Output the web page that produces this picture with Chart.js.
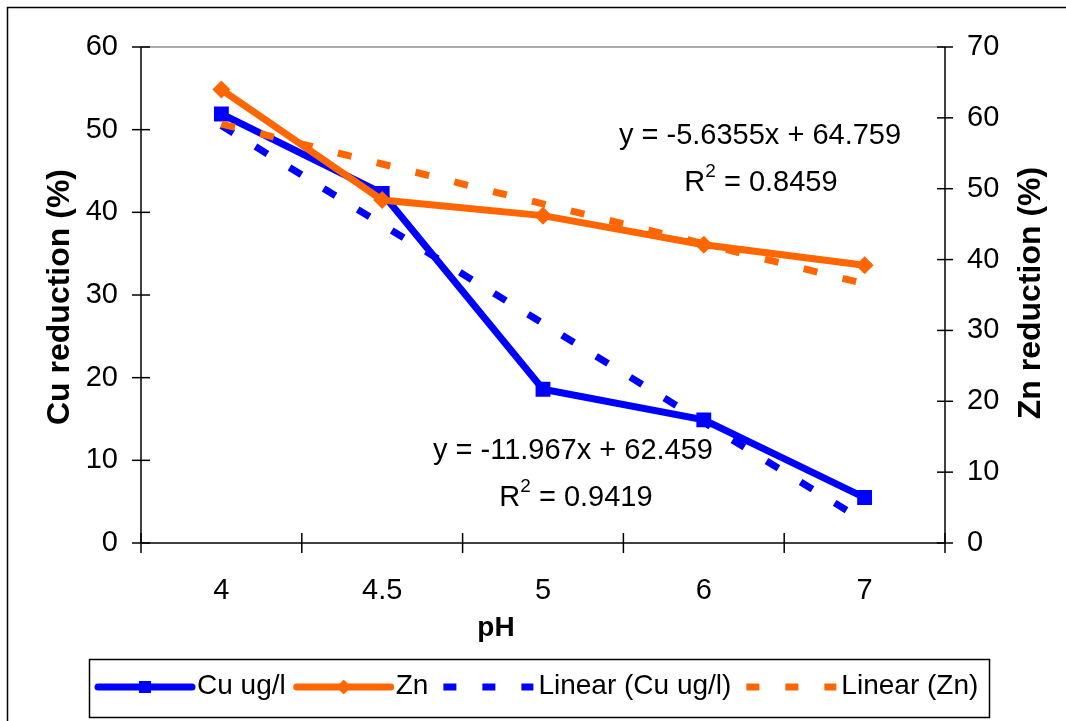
<!DOCTYPE html>
<html>
<head>
<meta charset="utf-8">
<title>Cu and Zn reduction vs pH</title>
<script src="https://cdn.jsdelivr.net/npm/chart.js@4.4.1/dist/chart.umd.min.js"></script>
<style>
  html, body { margin: 0; padding: 0; background: #fff; }
  #wrap { width: 1066px; height: 721px; }
</style>
</head>
<body>
<div id="wrap"><canvas id="phChart" width="1066" height="721"></canvas></div>
<script>
// pH categories on the x axis
const phLabels = ['4', '4.5', '5', '6', '7'];

// Reduction (%) at each pH
const cuReduction = [51.9, 42.3, 18.6, 14.9, 5.5];
const znReduction = [64.0, 48.4, 46.2, 42.1, 39.2];

// Linear trendlines: [slope, intercept, R squared], x runs 1..n over the categories
const cuFit = [-11.967, 62.459, 0.9419];
const znFit = [-5.6355, 64.759, 0.8459];

// Axis ranges: [min, max, step]
const cuAxisRange = [0, 60, 10];
const znAxisRange = [0, 70, 10];

const FONT = '"Liberation Sans", Arial, sans-serif';
const BLUE = '#0000ff';
const ORANGE = '#ff6600';

function trendValues(fit) {
    return phLabels.map((_, i) => fit[0] * (i + 1) + fit[1]);
}

function strokeLine(ctx, x1, y1, x2, y2) {
    ctx.beginPath();
    ctx.moveTo(x1, y1);
    ctx.lineTo(x2, y2);
    ctx.stroke();
}

// Outer border, plot frame and ticks that cross the axis lines
const framePlugin = {
    id: 'frame',
    beforeDraw(chart) {
        const ctx = chart.ctx;
        ctx.save();
        ctx.fillStyle = '#fff';
        ctx.fillRect(0, 0, chart.width, chart.height);
        ctx.strokeStyle = '#000';
        ctx.lineWidth = 1.5;
        ctx.strokeRect(7.5, 7.5, chart.width + 20, chart.height + 20);
        ctx.restore();
    },
    beforeDatasetsDraw(chart) {
        const { ctx, chartArea: a, scales } = chart;
        ctx.save();
        ctx.lineWidth = 1.5;
        ctx.strokeStyle = '#8c8c8c';
        strokeLine(ctx, a.left, a.top, a.right, a.top);
        ctx.strokeStyle = '#000';
        strokeLine(ctx, a.left, a.top, a.left, a.bottom);
        strokeLine(ctx, a.right, a.top, a.right, a.bottom);
        strokeLine(ctx, a.left, a.bottom, a.right, a.bottom);

        scales.y.ticks.forEach(t => {
            const y = scales.y.getPixelForValue(t.value);
            strokeLine(ctx, a.left - 9, y, a.left + 9, y);
        });
        scales.y1.ticks.forEach(t => {
            const y = scales.y1.getPixelForValue(t.value);
            strokeLine(ctx, a.right - 8, y, a.right + 8, y);
        });
        for (let i = 0; i <= phLabels.length; i++) {
            const x = scales.x.getPixelForValue(i - 0.5);
            strokeLine(ctx, x, a.bottom - 10, x, a.bottom + 10);
        }
        ctx.restore();
    }
};

// Axis titles, trendline equations and the boxed legend
function drawFitLabel(ctx, fit, cx, cy, cx2, cy2) {
    ctx.fillStyle = '#000';
    ctx.textBaseline = 'middle';
    ctx.textAlign = 'center';
    ctx.font = '29px ' + FONT;
    ctx.fillText('y = ' + fit[0] + 'x + ' + fit[1], cx, cy);

    const rest = ' = ' + fit[2];
    const wR = ctx.measureText('R').width;
    const wRest = ctx.measureText(rest).width;
    ctx.font = '19px ' + FONT;
    const w2 = ctx.measureText('2').width;
    const x0 = cx2 - (wR + w2 + wRest) / 2;
    ctx.textAlign = 'left';
    ctx.fillText('2', x0 + wR, cy2 - 11);
    ctx.font = '29px ' + FONT;
    ctx.fillText('R', x0, cy2);
    ctx.fillText(rest, x0 + wR + w2, cy2);
}

const annotatePlugin = {
    id: 'annotate',
    afterDraw(chart) {
        const ctx = chart.ctx;
        ctx.save();
        ctx.fillStyle = '#000';
        ctx.textAlign = 'center';
        ctx.textBaseline = 'middle';

        ctx.font = 'bold 32px ' + FONT;
        ctx.save();
        ctx.translate(60, 297);
        ctx.rotate(-Math.PI / 2);
        ctx.fillText('Cu reduction (%)', 0, 0);
        ctx.restore();
        ctx.save();
        ctx.translate(1031, 293);
        ctx.rotate(-Math.PI / 2);
        ctx.fillText('Zn reduction (%)', 0, 0);
        ctx.restore();

        ctx.font = 'bold 28px ' + FONT;
        ctx.fillText('pH', 496, 628);

        drawFitLabel(ctx, znFit, 760, 136, 761, 183);
        drawFitLabel(ctx, cuFit, 573, 451, 576, 498);

        // legend
        ctx.lineWidth = 1.5;
        ctx.strokeStyle = '#000';
        ctx.strokeRect(89.5, 659.5, 900, 58);
        const ly = 687;
        let x = 98;
        chart.data.datasets.forEach(ds => {
            ctx.save();
            ctx.strokeStyle = ds.borderColor;
            ctx.lineWidth = 7;
            if (ds.borderDash) {
                ctx.lineCap = 'butt';
                ctx.setLineDash([13, 26]);
                ctx.lineDashOffset = -4;
            } else {
                ctx.lineCap = 'round';
            }
            strokeLine(ctx, x, ly, x + 94, ly);
            ctx.setLineDash([]);
            if (ds.pointRadius > 0) {
                ctx.fillStyle = ds.pointBackgroundColor;
                Chart.helpers.drawPoint(ctx, {
                    pointStyle: ds.pointStyle,
                    radius: ds.pointRadius * 0.8,
                    rotation: 0,
                    borderWidth: 0
                }, x + 47, ly);
                ctx.fill();
            }
            ctx.restore();
            x += 99;
            ctx.font = '28px ' + FONT;
            ctx.textAlign = 'left';
            ctx.fillText(ds.label, x, ly - 1);
            x += ctx.measureText(ds.label).width + 11;
        });
        ctx.restore();
    }
};

const tickFont = { family: FONT, size: 29 };

new Chart(document.getElementById('phChart'), {
    type: 'line',
    data: {
        labels: phLabels,
        datasets: [
            {
                label: 'Cu ug/l',
                data: cuReduction,
                yAxisID: 'y',
                borderColor: BLUE,
                backgroundColor: BLUE,
                pointBackgroundColor: BLUE,
                pointBorderWidth: 0,
                borderWidth: 7,
                pointStyle: 'rect',
                pointRadius: 10.5,
                tension: 0,
                order: 3
            },
            {
                label: 'Zn',
                data: znReduction,
                yAxisID: 'y1',
                borderColor: ORANGE,
                backgroundColor: ORANGE,
                pointBackgroundColor: ORANGE,
                pointBorderWidth: 0,
                borderWidth: 7,
                pointStyle: 'rectRot',
                pointRadius: 9,
                tension: 0,
                order: 2
            },
            {
                label: 'Linear (Cu ug/l)',
                data: trendValues(cuFit),
                yAxisID: 'y',
                borderColor: BLUE,
                borderWidth: 7,
                borderDash: [14, 26],
                borderCapStyle: 'butt',
                pointRadius: 0,
                tension: 0,
                order: 1
            },
            {
                label: 'Linear (Zn)',
                data: trendValues(znFit),
                yAxisID: 'y1',
                borderColor: ORANGE,
                borderWidth: 7,
                borderDash: [14, 26],
                borderCapStyle: 'butt',
                pointRadius: 0,
                tension: 0,
                order: 0
            }
        ]
    },
    options: {
        responsive: false,
        animation: false,
        devicePixelRatio: 1,
        layout: { padding: { top: 47, left: 0, right: 0, bottom: 0 } },
        plugins: {
            legend: { display: false },
            tooltip: { enabled: false }
        },
        scales: {
            x: {
                type: 'category',
                offset: true,
                grid: { display: false, drawTicks: false },
                border: { display: false },
                ticks: { color: '#000', font: tickFont, padding: 31, maxRotation: 0 },
                afterFit: s => { s.height = 178; }
            },
            y: {
                position: 'left',
                min: cuAxisRange[0],
                max: cuAxisRange[1],
                grid: { display: false, drawTicks: false },
                border: { display: false },
                ticks: { color: '#000', font: tickFont, padding: 23, stepSize: cuAxisRange[2] },
                afterFit: s => { s.width = 141; }
            },
            y1: {
                position: 'right',
                min: znAxisRange[0],
                max: znAxisRange[1],
                grid: { display: false, drawTicks: false },
                border: { display: false },
                ticks: { color: '#000', font: tickFont, padding: 22, stepSize: znAxisRange[2] },
                afterFit: s => { s.width = 121; }
            }
        }
    },
    plugins: [framePlugin, annotatePlugin]
});
</script>
</body>
</html>
